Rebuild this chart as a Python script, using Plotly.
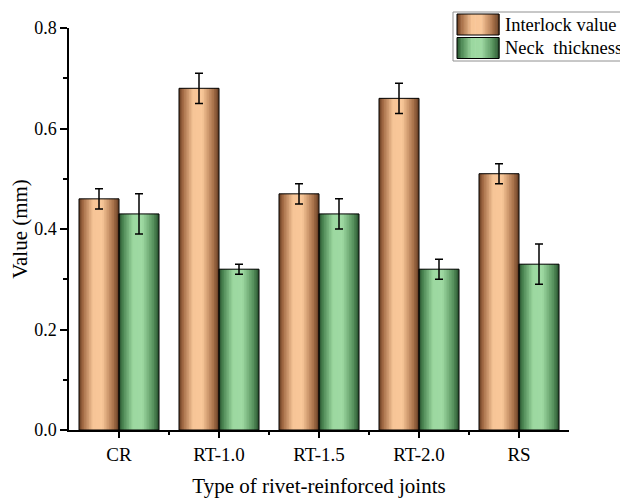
import plotly.graph_objects as go

categories = ["CR", "RT-1.0", "RT-1.5", "RT-2.0", "RS"]
interlock = [0.46, 0.68, 0.47, 0.66, 0.51]
interlock_err = [0.02, 0.03, 0.02, 0.03, 0.02]
neck = [0.43, 0.32, 0.43, 0.32, 0.33]
neck_err = [0.04, 0.01, 0.03, 0.02, 0.04]
series_names = ["Interlock value", "Neck  thickness"]

FONT = "Liberation Serif"
N = 24
BAR_W = 0.4

def hex2rgb(h):
    h = h.lstrip("#")
    return tuple(int(h[i:i + 2], 16) for i in (0, 2, 4))

def grad(stops, u):
    for (u0, c0), (u1, c1) in zip(stops[:-1], stops[1:]):
        if u0 <= u <= u1:
            t = (u - u0) / (u1 - u0) if u1 > u0 else 0
            a, b = hex2rgb(c0), hex2rgb(c1)
            return "rgb(%d,%d,%d)" % tuple(round(a[k] + (b[k] - a[k]) * t) for k in range(3))
    return stops[-1][1]

orange_stops = [(0, "#653b1f"), (0.1, "#a36b45"), (0.35, "#f7c597"), (0.58, "#f9c799"),
                (0.85, "#ab744c"), (1, "#683f24")]
green_stops = [(0, "#27512d"), (0.1, "#4b8552"), (0.35, "#9cd8a0"), (0.58, "#9fdaa3"),
               (0.85, "#58935e"), (1, "#29542f")]

x = list(range(len(categories)))
fig = go.Figure()

series = [(interlock, interlock_err, orange_stops, -BAR_W),
          (neck, neck_err, green_stops, 0.0)]

for vals, errs, stops, off in series:
    step = BAR_W / N
    for i in range(N):
        u = (i + 0.5) / N
        fig.add_trace(go.Bar(x=x, y=vals, width=step * 1.7 if i < N - 1 else step,
                             offset=off + i * step, marker=dict(color=grad(stops, u), line=dict(width=0)),
                             showlegend=False, hoverinfo="skip"))

for (vals, errs, stops, off), name in zip(series, series_names):
    fig.add_trace(go.Bar(x=x, y=vals, width=BAR_W, offset=off, name=name,
                         marker=dict(color="rgba(0,0,0,0)", line=dict(color="black", width=1)),
                         error_y=dict(type="data", array=errs, visible=True, color="black",
                                      thickness=1.5, width=4),
                         showlegend=False))

# custom legend (paper coords: plot area 69..569 x, 430..28 y in window pixels)
def px(xp):
    return (xp - 69) / 500.0

def py(yp):
    return (430 - yp) / 402.0

shapes = []
shapes.append(dict(type="rect", xref="paper", yref="paper", x0=px(453), x1=px(624), y0=py(61), y1=py(12),
                   line=dict(color="#909090", width=1), fillcolor="white", layer="above"))
annotations = []
for k, (stops, name) in enumerate([(orange_stops, series_names[0]), (green_stops, series_names[1])]):
    top = 14 + k * 23.5
    bot = top + 21
    M = 30
    for i in range(M):
        x0 = 457 + i * 42 / M
        shapes.append(dict(type="rect", xref="paper", yref="paper", x0=px(x0), x1=px(x0 + 42 / M + 0.6),
                           y0=py(bot), y1=py(top), line=dict(width=0),
                           fillcolor=grad(stops, (i + 0.5) / M), layer="above"))
    shapes.append(dict(type="rect", xref="paper", yref="paper", x0=px(457), x1=px(499),
                       y0=py(bot), y1=py(top), line=dict(color="black", width=1), layer="above"))
    annotations.append(dict(text=name, xref="paper", yref="paper", x=px(503), y=py((top + bot) / 2),
                            xanchor="left", yanchor="middle", showarrow=False,
                            font=dict(family=FONT, size=18.5, color="black")))

# page body has an 8px margin, so the figure is 8px smaller than the window
fig.update_layout(
    width=620, height=491,
    margin=dict(l=61, r=59, t=20, b=69),
    barmode="overlay",
    paper_bgcolor="white", plot_bgcolor="white",
    font=dict(family=FONT, color="black"),
    shapes=shapes, annotations=annotations,
    showlegend=False,
)
fig.update_xaxes(
    range=[-0.5, 4.5], tickmode="array", tickvals=x, ticktext=categories,
    automargin=False,
    showline=True, linecolor="black", linewidth=1.5, mirror=False,
    ticks="outside", ticklen=6, tickwidth=1.5, tickcolor="black",
    minor=dict(tickmode="array", tickvals=[0.5, 1.5, 2.5, 3.5], ticks="outside", ticklen=3,
               tickwidth=1.5, tickcolor="black"),
    showgrid=False, zeroline=False,
    tickfont=dict(family=FONT, size=19),
    title=dict(text="Type of rivet-reinforced joints", font=dict(family=FONT, size=21), standoff=15),
)
fig.update_yaxes(
    range=[0, 0.8], tickmode="array", tickvals=[0, 0.2, 0.4, 0.6, 0.8],
    ticktext=["0.0", "0.2", "0.4", "0.6", "0.8"],
    automargin=False,
    showline=True, linecolor="black", linewidth=1.5,
    ticks="outside", ticklen=7, tickwidth=1.5, tickcolor="black",
    minor=dict(tickmode="array", tickvals=[0.1, 0.3, 0.5, 0.7], ticks="outside", ticklen=4,
               tickwidth=1.5, tickcolor="black"),
    showgrid=False, zeroline=False,
    tickfont=dict(family=FONT, size=18),
    title=dict(text="Value (mm)", font=dict(family=FONT, size=21), standoff=8),
)

fig.write_html("out.html")
